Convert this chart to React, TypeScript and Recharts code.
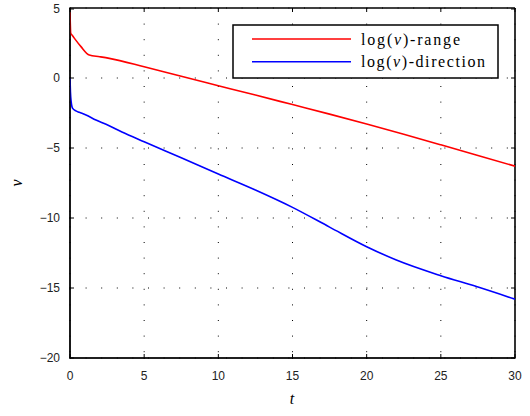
import React from 'react';
import { LineChart, Line, XAxis, YAxis, CartesianGrid, Legend, ReferenceLine } from 'recharts';

const tRange = [0, 0.05, 0.15, 0.3, 0.74, 1.3, 2, 2.65, 5, 7.5, 10, 12.5, 15, 17.5, 20, 22.5, 25, 27.5, 30];
const vRange = [4.7, 3.2, 3.05, 2.83, 2.24, 1.64, 1.52, 1.4, 0.8, 0.12, -0.55, -1.22, -1.9, -2.58, -3.29, -4.02, -4.77, -5.53, -6.3];

const tDir = [0, 0.03, 0.08, 0.18, 0.4, 0.63, 1.08, 1.75, 2.43, 3.5, 5, 7.5, 10, 12.5, 15, 17.5, 20, 22, 25, 27.4, 30];
const vDir = [0, -1.0, -1.7, -2.17, -2.35, -2.45, -2.64, -3.0, -3.31, -3.85, -4.55, -5.7, -6.86, -8.0, -9.24, -10.65, -12.05, -13.0, -14.12, -14.9, -15.8];

const xTicks = [0, 5, 10, 15, 20, 25, 30];
const yTicks = [-20, -15, -10, -5, 0, 5];

const seriesNames = ['range', 'direction'];
const seriesColors = ['#ff0000', '#0000ff'];
const legendTextWidths = [99, 124];
const xTitle = 't';
const yTitle = 'ν';

const rangeData = tRange.map((t, i) => ({ t, v: vRange[i] }));
const dirData = tDir.map((t, i) => ({ t, v: vDir[i] }));

const X_MIN = xTicks[0];
const X_MAX = xTicks[xTicks.length - 1];
const Y_MIN = yTicks[0];
const Y_MAX = yTicks[yTicks.length - 1];

// layout constants
const PLOT_W = 445;
const PLOT_H = 350;
const TICK_PX = 4;
const AXIS_TICK_SIZE = 1;
const X_TICK_MARGIN = 12;
const Y_TICK_MARGIN = 9;

const FONT_SANS = 'Liberation Sans, Arial, sans-serif';
const FONT_SERIF = 'Liberation Serif, DejaVu Serif, serif';
const fmt = (v: number) => (v < 0 ? '\u2212' + Math.abs(v) : String(v));

const renderXTick = (p: any) => {
  const x = p.x;
  const y = p.y;
  const axisY = y - AXIS_TICK_SIZE - X_TICK_MARGIN;
  const topY = axisY - PLOT_H;
  return (
    <g>
      <line x1={x} x2={x} y1={axisY} y2={axisY - TICK_PX} stroke="#000" strokeWidth={1} />
      <line x1={x} x2={x} y1={topY} y2={topY + TICK_PX} stroke="#000" strokeWidth={1} />
      <text x={x} y={y} dy="0.71em" textAnchor="middle" fontFamily={FONT_SANS} fontSize={12} fill="#222">
        {fmt(p.payload.value)}
      </text>
    </g>
  );
};

const renderYTick = (p: any) => {
  const x = p.x;
  const y = p.y;
  const axisX = x + AXIS_TICK_SIZE + Y_TICK_MARGIN;
  const rightX = axisX + PLOT_W;
  return (
    <g>
      <line x1={axisX} x2={axisX + TICK_PX} y1={y} y2={y} stroke="#000" strokeWidth={1} />
      <line x1={rightX} x2={rightX - TICK_PX} y1={y} y2={y} stroke="#000" strokeWidth={1} />
      <text x={x} y={y} dy="0.355em" textAnchor="end" fontFamily={FONT_SANS} fontSize={12} fill="#222">
        {fmt(p.payload.value)}
      </text>
    </g>
  );
};

const LegendBox = () => (
  <svg width={268} height={56} style={{ display: 'block' }}>
    <rect x={1} y={1} width={265} height={53} fill="#fff" stroke="#000" strokeWidth={1.5} />
    {seriesNames.map((name, i) => (
      <g key={name}>
        <line x1={20} x2={119} y1={15 + i * 22.7} y2={15 + i * 22.7} stroke={seriesColors[i]} strokeWidth={1.5} />
        <text
          x={129}
          y={20.5 + i * 22.7}
          fontFamily={FONT_SERIF}
          fontSize={16}
          textLength={legendTextWidths[i]}
          lengthAdjust="spacing"
          fill="#000"
        >
          log(<tspan fontStyle="italic">ν</tspan>)-{name}
        </text>
      </g>
    ))}
  </svg>
);

export default function App() {
  return (
    <div style={{ position: 'absolute', left: 0, top: 0, width: 530, height: 416, background: '#fff' }}>
      <LineChart width={530} height={416} margin={{ top: 8, right: 15, left: 0, bottom: 28 }}>
        <CartesianGrid stroke="#000" strokeDasharray="1 14.6" strokeWidth={1} />
        <XAxis
          dataKey="t"
          type="number"
          domain={[X_MIN, X_MAX]}
          ticks={xTicks}
          allowDataOverflow
          height={30}
          tickSize={AXIS_TICK_SIZE}
          tickMargin={X_TICK_MARGIN}
          stroke="#000"
          tick={renderXTick}
          tickFormatter={fmt}
        />
        <YAxis
          type="number"
          domain={[Y_MIN, Y_MAX]}
          ticks={yTicks}
          allowDataOverflow
          width={70}
          tickSize={AXIS_TICK_SIZE}
          tickMargin={Y_TICK_MARGIN}
          stroke="#000"
          tick={renderYTick}
          tickFormatter={fmt}
        />
        <ReferenceLine x={X_MIN} stroke="#000" strokeWidth={1.6} />
        <ReferenceLine x={X_MAX} stroke="#000" strokeWidth={1.6} />
        <ReferenceLine y={Y_MIN} stroke="#000" strokeWidth={1.6} />
        <ReferenceLine y={Y_MAX} stroke="#000" strokeWidth={1.6} />
        <Legend
          layout="vertical"
          align="center"
          verticalAlign="middle"
          wrapperStyle={{ left: 232, top: 24, width: 268, height: 56 }}
          content={() => <LegendBox />}
        />
        <Line data={rangeData} dataKey="v" name="range" type="monotone" stroke={seriesColors[0]} strokeWidth={1.6} dot={false} isAnimationActive={false} />
        <Line data={dirData} dataKey="v" name="direction" type="monotone" stroke={seriesColors[1]} strokeWidth={1.6} dot={false} isAnimationActive={false} />
      </LineChart>
      <div style={{ position: 'absolute', left: 282, top: 389, width: 20, textAlign: 'center', fontFamily: FONT_SERIF, fontStyle: 'italic', fontSize: 16, lineHeight: '20px', color: '#000' }}>{xTitle}</div>
      <div style={{ position: 'absolute', left: 7, top: 173, width: 20, height: 20, textAlign: 'center', fontFamily: FONT_SERIF, fontStyle: 'italic', fontSize: 16, lineHeight: '20px', color: '#000', transform: 'rotate(-90deg)' }}>{yTitle}</div>
    </div>
  );
}
